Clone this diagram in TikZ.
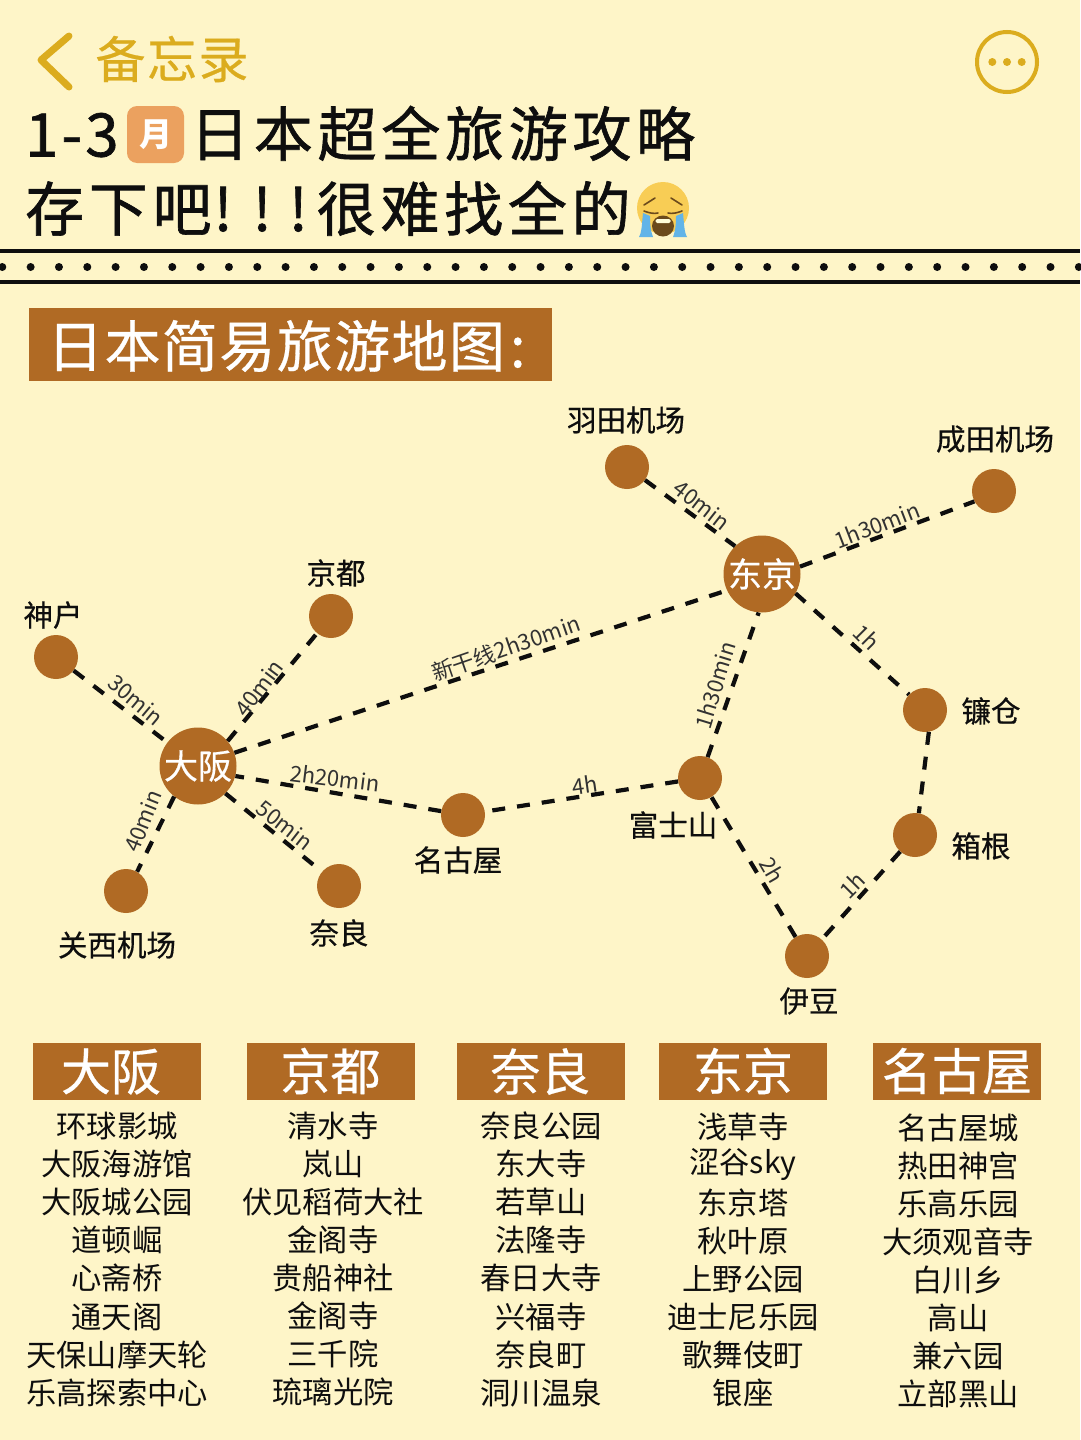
\documentclass[tikz,border=0pt]{standalone}
\usetikzlibrary{calc}
\usepackage{fontspec}
\setmainfont{Noto Sans CJK SC}
\newfontfamily\medf[FakeBold=0.5]{Noto Sans CJK SC}
\newfontfamily\titlef[FakeBold=1.1]{Noto Sans CJK SC}
\definecolor{bgc}{HTML}{FEF5C8}
\definecolor{brownc}{HTML}{B06A24}
\definecolor{goldc}{HTML}{DBAC1E}
\definecolor{badgec}{HTML}{EBA15F}
\definecolor{inkc}{HTML}{0E0E0E}
\definecolor{facec}{HTML}{F8CD55}
\definecolor{tearc}{HTML}{62B4E8}
\definecolor{mouthc}{HTML}{6B4A1C}
\tikzset{
 city/.style={circle,fill=brownc,minimum size=44pt,inner sep=0pt},
 hub/.style={circle,fill=brownc,minimum size=77pt,inner sep=0pt,text=white,font=\medf\fontsize{34}{34}\selectfont},
 cityname/.style={font=\medf\fontsize{29.5}{30}\selectfont,text=inkc,inner sep=0pt},
 route/.style={line width=4.2pt,dash pattern=on 13pt off 12pt,draw=inkc},
 timelabel/.style={font=\fontsize{22}{22}\selectfont,text=inkc!85,inner sep=0pt},
 headbox/.style={fill=brownc,text=white,minimum width=168pt,minimum height=57pt,inner sep=0pt,font=\medf\fontsize{50}{50}\selectfont},
 spot/.style={font=\fontsize{30.3}{30}\selectfont,text=inkc,inner sep=0pt},
 titleline/.style={anchor=base west,inner sep=0pt,text=inkc},
 rule/.style={line width=4pt,draw=inkc},
}
\newcommand{\spots}[4]{%
 \foreach \t [count=\i from 0] in {#4} {
  \node[spot] (#1-\i) at (#2,{#3+38.1*\i}) {\t};
 }}
\begin{document}
\begin{tikzpicture}[x=1pt,y=-1pt]
\useasboundingbox[fill=bgc] (0,0) rectangle (1080,1440);
% top bar
\coordinate (cha) at (69,36); \coordinate (chb) at (41,60); \coordinate (chc) at (69,87);
\draw[goldc,line width=7pt,line join=round,line cap=round] (cha) -- (chb) -- (chc);
\node[anchor=center,text=goldc,inner sep=0pt,font=\medf\fontsize{50}{50}\selectfont\addfontfeature{LetterSpace=3}] (memo) at (172,59) {备忘录};
\node[circle,draw=goldc,line width=4pt,minimum size=60pt,inner sep=0pt] (more) at (1007,62) {};
\foreach \dx in {-14.7,0,14.7} \fill[goldc] ($(more)+(\dx,0)$) circle (4pt);
% title
\node[titleline,font=\titlef\fontsize{60}{60}\selectfont\addfontfeature{LetterSpace=5}] (t13) at (25,156.5) {1-3};
\node[fill=badgec,rounded corners=10pt,minimum width=57pt,minimum height=57pt,inner sep=0pt,text=white,font=\bfseries\fontsize{33}{33}\selectfont] (badge) at (155.5,134.5) {月};
\node[titleline,font=\titlef\fontsize{59}{59}\selectfont\addfontfeature{LetterSpace=8}] (t1) at (190,156) {日本超全旅游攻略};
\node[titleline,font=\titlef\fontsize{59}{59}\selectfont\addfontfeature{LetterSpace=8}] (t2) at (25,231) {存下吧\kern2pt !\kern20pt!\kern17pt!\kern9pt 很难找全的};
% emoji
\begin{scope}[shift={(663,208)}]
 \fill[facec] (0,0) circle (26pt);
 \fill[tearc] (-20,5) -- (-13,8) .. controls (-13,18) and (-12,24) .. (-10,29) -- (-24,29) .. controls (-21,24) and (-21,14) .. cycle;
 \fill[tearc] (20,5) -- (13,8) .. controls (13,18) and (12,24) .. (10,29) -- (24,29) .. controls (21,24) and (21,14) .. cycle;
 \fill[mouthc] (0,18) ellipse (11pt and 10.5pt);
 \fill[white!85!yellow,rounded corners=1.5pt] (-7.5,11) rectangle (7.5,15);
 \draw[mouthc,line width=1.6pt,line cap=round] (-19,3) .. controls (-14,5) and (-9,6) .. (-5,5) (19,3) .. controls (14,5) and (9,6) .. (5,5) (-19,-3) -- (-8,-10) (19,-3) -- (8,-10);
\end{scope}
% separators
\coordinate (ra) at (0,251); \coordinate (rb) at (1080,251);
\coordinate (rc) at (0,282); \coordinate (rd) at (1080,282);
\draw[rule] (ra) -- (rb);
\draw[rule] (rc) -- (rd);
\foreach \k in {0,...,38} \fill[inkc] ({2.3+28.33*\k},267) circle (4pt);
% heading
\node[fill=brownc,minimum width=523pt,minimum height=73pt,inner sep=0pt] (head) at (290.5,344.5) {};
\node[text=white,inner sep=0pt,anchor=west,font=\medf\fontsize{56}{56}\selectfont\addfontfeature{LetterSpace=2.5}] (headt) at (47,346) {日本简易旅游地图\kern5pt :};
% network
\node[city] (haneda) at (627,467) {};
\node[city] (narita) at (994,491) {};
\node[hub] (tokyo) at (762,574) {东京};
\node[city] (kamakura) at (925,710) {};
\node[city] (hakone) at (915,835) {};
\node[city] (izu) at (807,956) {};
\node[city] (fuji) at (700,778) {};
\node[city] (nagoya) at (463,815) {};
\node[hub] (osaka) at (198,766) {大阪};
\node[city] (kobe) at (56,657) {};
\node[city] (kyoto) at (331,616) {};
\node[city] (kansai) at (126,891) {};
\node[city] (nara) at (339,886) {};
\draw[route] (haneda.-36) -- (tokyo.134);
\draw[route] (tokyo.11) -- (narita.208);
\draw[route] (tokyo.-30) -- (kamakura.136);
\draw[route] (kamakura.-80) -- (hakone.80);
\draw[route] (hakone) -- (izu);
\draw[route] (izu) -- (fuji);
\draw[route] (fuji.70) -- (tokyo.-95);
\draw[route] (fuji) -- (nagoya);
\draw[route] (nagoya.170) -- (osaka.-15);
\draw[route] (osaka.20) -- (tokyo.205);
\draw[route] (kobe) -- (osaka);
\draw[route] (osaka.40) -- (kyoto.231);
\draw[route] (osaka.232) -- (kansai.60);
\draw[route] (osaka.-45) -- (nara.140);
% times
\node[timelabel,rotate=-38] (l1) at (702,505) {40min};
\node[timelabel,rotate=21] (l2) at (877,525) {1h30min};
\node[timelabel,rotate=-45] (l3) at (867,637) {1h};
\node[timelabel,rotate=19] (l4) at (506,648) {新干线2h30min};
\node[timelabel,rotate=73] (l5) at (715,685) {1h30min};
\node[timelabel,rotate=-40] (l6) at (136,700) {30min};
\node[timelabel,rotate=53] (l7) at (259,688) {40min};
\node[timelabel,rotate=-7] (l8) at (335,778) {2h20min};
\node[timelabel,rotate=8] (l9) at (585,785) {4h};
\node[timelabel,rotate=-60] (l10) at (772,870) {2h};
\node[timelabel,rotate=45] (l11) at (852,885) {1h};
\node[timelabel,rotate=68] (l12) at (143,821) {40min};
\node[timelabel,rotate=-38] (l13) at (285,825) {50min};
% names
\node[cityname] (n1) at (626,420) {羽田机场};
\node[cityname] (n2) at (995,439) {成田机场};
\node[cityname] (n3) at (336,573) {京都};
\node[cityname] (n4) at (53,615) {神户};
\node[cityname] (n5) at (991,711) {镰仓};
\node[cityname] (n6) at (981,846) {箱根};
\node[cityname] (n7) at (809,1001) {伊豆};
\node[cityname] (n8) at (673,825) {富士山};
\node[cityname] (n9) at (458,860) {名古屋};
\node[cityname] (n10) at (117,945) {关西机场};
\node[cityname] (n11) at (339,933) {奈良};
% columns
\node[headbox] (h1) at (117,1071.5) {大阪\kern12pt};
\node[headbox] (h2) at (330.5,1071) {京都};
\node[headbox] (h3) at (540.5,1071.5) {奈良};
\node[headbox] (h4) at (743,1071) {东京};
\node[headbox] (h5) at (957,1071) {名古屋};
\spots{a}{117}{1126}{环球影城,大阪海游馆,大阪城公园,道顿崛,心斋桥,通天阁,天保山摩天轮,乐高探索中心}
\spots{b}{333}{1125.5}{清水寺,岚山,伏见稻荷大社,金阁寺,贵船神社,金阁寺,三千院,琉璃光院}
\spots{c}{541}{1126}{奈良公园,东大寺,若草山,法隆寺,春日大寺,兴福寺,奈良町,洞川温泉}
\spots{d}{743}{1126.5}{浅草寺,涩谷sky,东京塔,秋叶原,上野公园,迪士尼乐园,歌舞伎町,银座}
\spots{e}{958}{1127.5}{名古屋城,热田神宫,乐高乐园,大须观音寺,白川乡,高山,兼六园,立部黑山}
\end{tikzpicture}
\end{document}
